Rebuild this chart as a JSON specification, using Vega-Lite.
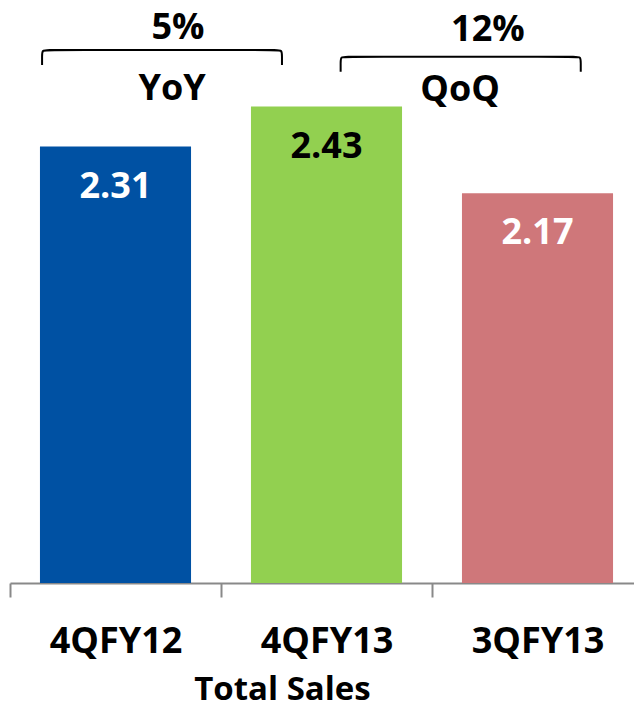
{
  "$schema": "https://vega.github.io/schema/vega-lite/v6.json",
  "autosize": {"type": "none"},
  "width": 624,
  "height": 583,
  "padding": {"left": 10, "top": 0, "right": 0, "bottom": 125},
  "background": "white",
  "config": {"view": {"stroke": null}, "font": "Open Sans"},
  "datasets": {
    "sales": [
      {"period": "4QFY12", "sales": 2.31, "label": "2.31"},
      {"period": "4QFY13", "sales": 2.43, "label": "2.43"},
      {"period": "3QFY13", "sales": 2.17, "label": "2.17"}
    ],
    "brackets": [
      {"g": "YoY", "i": 1, "u": 0.152, "v": 2.555},
      {"g": "YoY", "i": 2, "u": 0.152, "v": 2.582},
      {"g": "YoY", "i": 3, "u": 0.152, "v": 2.600},
      {"g": "YoY", "i": 4, "u": 0.180, "v": 2.600},
      {"g": "YoY", "i": 5, "u": 1.261, "v": 2.600},
      {"g": "YoY", "i": 6, "u": 1.289, "v": 2.600},
      {"g": "YoY", "i": 7, "u": 1.289, "v": 2.582},
      {"g": "YoY", "i": 8, "u": 1.289, "v": 2.555},
      {"g": "QoQ", "i": 1, "u": 1.567, "v": 2.535},
      {"g": "QoQ", "i": 2, "u": 1.567, "v": 2.562},
      {"g": "QoQ", "i": 3, "u": 1.567, "v": 2.580},
      {"g": "QoQ", "i": 4, "u": 1.595, "v": 2.580},
      {"g": "QoQ", "i": 5, "u": 2.677, "v": 2.580},
      {"g": "QoQ", "i": 6, "u": 2.705, "v": 2.580},
      {"g": "QoQ", "i": 7, "u": 2.705, "v": 2.562},
      {"g": "QoQ", "i": 8, "u": 2.705, "v": 2.535}
    ],
    "notes": [
      {"u": 0.796, "v": 2.633, "text": "5%"},
      {"u": 0.768, "v": 2.450, "text": "YoY"},
      {"u": 2.265, "v": 2.628, "text": "12%"},
      {"u": 2.133, "v": 2.446, "text": "QoQ"}
    ]
  },
  "layer": [
    {
      "data": {"name": "sales"},
      "encoding": {
        "x": {
          "field": "period",
          "type": "nominal",
          "sort": null,
          "scale": {"range": [0, 633], "paddingInner": 0, "paddingOuter": 0},
          "axis": {
            "title": "Total Sales",
            "tickBand": "extent",
            "domainColor": "#898989",
            "domainWidth": 2,
            "tickColor": "#898989",
            "tickWidth": 2,
            "tickSize": 14,
            "labelFont": "Open Sans",
            "labelFontWeight": "bold",
            "labelFontSize": 36,
            "labelColor": "black",
            "labelBaseline": "alphabetic",
            "labelPadding": 55,
            "labelAngle": 0,
            "labelLimit": 0,
            "titleFont": "Open Sans",
            "titleFontSize": 33,
            "titleFontWeight": "bold",
            "titleColor": "black",
            "titleX": 272,
            "titleY": 116,
            "titleBaseline": "alphabetic",
            "titleAlign": "center"
          }
        },
        "y": {
          "field": "sales",
          "type": "quantitative",
          "scale": {"domain": [1, 2.75], "zero": false, "nice": false},
          "axis": null
        }
      },
      "layer": [
        {
          "mark": {"type": "bar", "width": {"band": 0.716}},
          "encoding": {
            "y2": {"datum": 1},
            "color": {
              "field": "period",
              "type": "nominal",
              "scale": {"domain": ["4QFY12", "4QFY13", "3QFY13"], "range": ["#0051A3", "#92D050", "#CF777A"]},
              "legend": null
            }
          }
        },
        {
          "mark": {"type": "text", "font": "Open Sans", "fontWeight": "bold", "fontSize": 36, "baseline": "alphabetic", "align": "center", "dy": 51},
          "encoding": {
            "text": {"field": "label"},
            "color": {
              "field": "period",
              "type": "nominal",
              "scale": {"domain": ["4QFY12", "4QFY13", "3QFY13"], "range": ["#FFFFFF", "#000000", "#FFFFFF"]},
              "legend": null
            }
          }
        }
      ],
      "resolve": {"scale": {"color": "independent"}}
    },
    {
      "layer": [
        {
          "data": {"name": "brackets"},
          "mark": {"type": "line", "interpolate": "basis", "color": "black", "strokeWidth": 2},
          "encoding": {
            "x": {"field": "u", "type": "quantitative", "scale": {"domain": [0, 3], "range": [0, 633], "nice": false, "zero": false}, "axis": null},
            "y": {"field": "v", "type": "quantitative"},
            "detail": {"field": "g"},
            "order": {"field": "i"}
          }
        },
        {
          "data": {"name": "notes"},
          "mark": {"type": "text", "font": "Open Sans", "fontWeight": "bold", "fontSize": 36, "baseline": "alphabetic", "align": "center", "color": "black"},
          "encoding": {
            "x": {"field": "u", "type": "quantitative", "scale": {"domain": [0, 3], "range": [0, 633], "nice": false, "zero": false}, "axis": null},
            "y": {"field": "v", "type": "quantitative"},
            "text": {"field": "text"}
          }
        }
      ]
    }
  ],
  "resolve": {"scale": {"x": "independent"}}
}
